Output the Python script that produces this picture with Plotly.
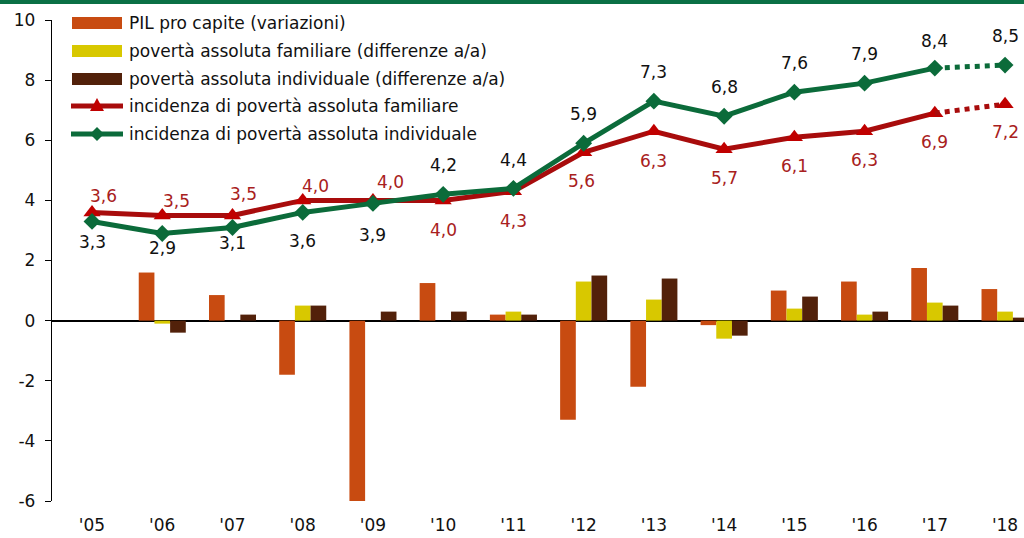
import plotly.graph_objects as go

years = ["'05", "'06", "'07", "'08", "'09", "'10", "'11", "'12", "'13", "'14", "'15", "'16", "'17", "'18"]
pil = [None, 1.6, 0.85, -1.8, -6.0, 1.25, 0.2, -3.3, -2.2, -0.15, 1.0, 1.3, 1.75, 1.05]
diff_fam = [None, -0.1, 0.0, 0.5, 0.0, 0.0, 0.3, 1.3, 0.7, -0.6, 0.4, 0.2, 0.6, 0.3]
diff_ind = [None, -0.4, 0.2, 0.5, 0.3, 0.3, 0.2, 1.5, 1.4, -0.5, 0.8, 0.3, 0.5, 0.1]
inc_fam = [3.6, 3.5, 3.5, 4.0, 4.0, 4.0, 4.3, 5.6, 6.3, 5.7, 6.1, 6.3, 6.9, 7.2]
inc_ind = [3.3, 2.9, 3.1, 3.6, 3.9, 4.2, 4.4, 5.9, 7.3, 6.8, 7.6, 7.9, 8.4, 8.5]
names = ["PIL pro capite (variazioni)",
         "povertà assoluta familiare (differenze a/a)",
         "povertà assoluta individuale (differenze a/a)",
         "incidenza di povertà assoluta familiare",
         "incidenza di povertà assoluta individuale"]
y_ticks = [-6, -4, -2, 0, 2, 4, 6, 8, 10]

# label offsets in pixels (style)
fam_yshift = [16, 14, 21, 14, 18, -30, -30, -29, -30, -29, -29, -29, -29, -28]
fam_xshift = [11, 14, 11, 13, 18, 0, 0, -2, 0, 0, 0, 0, 0, 0]
ind_yshift = [-21, -15, -16, -29, -32, 29, 28, 29, 29, 29, 29, 29, 27, 29]

C_OR = "#C84B11"
C_YE = "#D8C800"
C_BR = "#52210A"
C_RED = "#A80C0C"
C_REDM = "#C00000"
C_RED_TXT = "#A82020"
C_GR = "#0B6B3A"
FONT = "DejaVu Sans, Verdana, sans-serif"

xs = list(range(len(years)))
n = len(years)
fig = go.Figure()

for vals, col in [(pil, C_OR), (diff_fam, C_YE), (diff_ind, C_BR)]:
    fig.add_trace(go.Bar(x=xs, y=vals, marker=dict(color=col, line=dict(width=0)), showlegend=False))

for vals, col, mcol, sym, ms in [(inc_fam, C_RED, C_REDM, "triangle-up", 15),
                                 (inc_ind, C_GR, C_GR, "diamond", 13)]:
    fig.add_trace(go.Scatter(x=xs[:n-1], y=vals[:n-1], mode="lines+markers",
                             line=dict(color=col, width=5),
                             marker=dict(symbol=sym, size=ms, color=mcol),
                             showlegend=False, cliponaxis=False))
    fig.add_trace(go.Scatter(x=xs[n-2:], y=vals[n-2:], mode="lines",
                             line=dict(color=col, width=5, dash="dot"),
                             showlegend=False, cliponaxis=False))
    fig.add_trace(go.Scatter(x=xs[n-1:], y=vals[n-1:], mode="markers",
                             marker=dict(symbol=sym, size=ms, color=mcol),
                             showlegend=False, cliponaxis=False))

def fmt(v):
    return f"{v:.1f}".replace(".", ",")

ann = []
for i, v in enumerate(inc_fam):
    ann.append(dict(x=xs[i], y=v, xref="x", yref="y", text=fmt(v), showarrow=False,
                    yshift=fam_yshift[i], xshift=fam_xshift[i],
                    font=dict(family=FONT, size=17, color=C_RED_TXT)))
for i, v in enumerate(inc_ind):
    ann.append(dict(x=xs[i], y=v, xref="x", yref="y", text=fmt(v), showarrow=False,
                    yshift=ind_yshift[i],
                    font=dict(family=FONT, size=17, color="#111111")))

# manual legend
shapes = []
leg_y = [-3, -31, -59, -86, -114]
for k in range(3):
    col = [C_OR, C_YE, C_BR][k]
    shapes.append(dict(type="rect", xref="paper", yref="paper", xanchor=0, yanchor=1,
                       xsizemode="pixel", ysizemode="pixel",
                       x0=20, x1=70, y0=leg_y[k] - 6, y1=leg_y[k] + 6,
                       fillcolor=col, line=dict(width=0)))
for k, col, mcol in [(3, C_RED, C_REDM), (4, C_GR, C_GR)]:
    yy = leg_y[k]
    shapes.append(dict(type="line", xref="paper", yref="paper", xanchor=0, yanchor=1,
                       xsizemode="pixel", ysizemode="pixel",
                       x0=19, x1=71, y0=yy, y1=yy, line=dict(color=col, width=5)))
    if k == 3:
        path = f"M {45-7},{yy-5} L {45+7},{yy-5} L 45,{yy+8} Z"
    else:
        path = f"M 45,{yy+7} L {45+7},{yy} L 45,{yy-7} L {45-7},{yy} Z"
    shapes.append(dict(type="path", xref="paper", yref="paper", xanchor=0, yanchor=1,
                       xsizemode="pixel", ysizemode="pixel", path=path,
                       fillcolor=mcol, line=dict(width=0)))
for k in range(5):
    ann.append(dict(x=0, y=1, xref="paper", yref="paper", xshift=75, yshift=leg_y[k],
                    xanchor="left", yanchor="middle", text=names[k], showarrow=False,
                    font=dict(family=FONT, size=17, color="#111111")))

# top green border
shapes.append(dict(type="rect", xref="paper", yref="paper", xanchor=0, yanchor=1,
                   xsizemode="pixel", ysizemode="pixel", x0=-60, x1=1000, y0=16, y1=20,
                   fillcolor="#0A7045", line=dict(width=0)))

fig.update_layout(
    width=1024, height=538,
    margin=dict(l=52, r=0, t=20, b=37),
    paper_bgcolor="white", plot_bgcolor="white",
    barmode="group", bargap=0.33, bargroupgap=0,
    showlegend=False,
    annotations=ann, shapes=shapes,
    font=dict(family=FONT, size=17, color="#111111"),
    xaxis=dict(range=[-0.57, 13.27], tickmode="array", tickvals=xs, ticktext=years,
               showgrid=False, zeroline=False, showline=False, ticks="",
               ticklabelstandoff=12, tickfont=dict(family=FONT, size=17, color="#111111")),
    yaxis=dict(range=[-6, 10], tickmode="array", tickvals=y_ticks,
               ticktext=[str(t) for t in y_ticks],
               showgrid=False, zeroline=True, zerolinecolor="black", zerolinewidth=1.5,
               showline=True, linecolor="black", linewidth=1.3,
               ticks="outside", ticklen=6, tickcolor="black", tickwidth=1.2,
               ticklabelstandoff=6, tickfont=dict(family=FONT, size=17, color="#111111")),
)

fig.write_html("out.html", config={"displayModeBar": False},
               post_script="document.body.style.margin='0';document.body.style.overflow='hidden';")
